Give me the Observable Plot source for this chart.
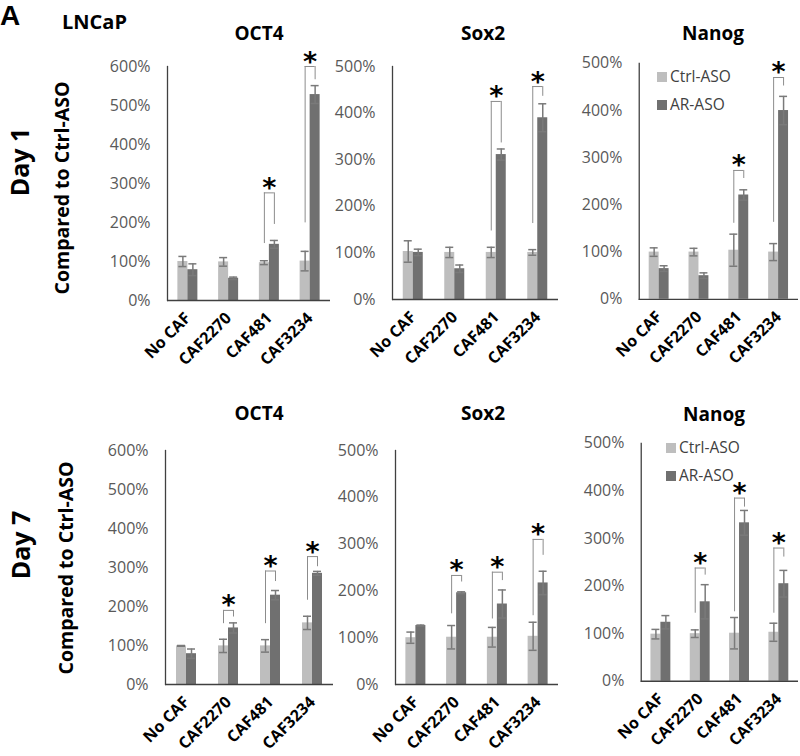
<!DOCTYPE html>
<html>
<head>
<meta charset="utf-8">
<script src="https://cdn.jsdelivr.net/npm/d3@7"></script>
<script src="https://cdn.jsdelivr.net/npm/@observablehq/plot@0.6"></script>
<style>
  html, body { margin: 0; padding: 0; background: #fff; }
  #root { position: relative; width: 800px; height: 756px; overflow: hidden; font-family: "Open Sans", sans-serif; }
  .lbl { position: absolute; white-space: nowrap; color: #000; font-weight: bold; line-height: 1; }
  .ctr { transform: translate(-50%, -50%); }
  .rot { transform: translate(-50%, -50%) rotate(-90deg); }
  .panel { position: absolute; }
  .panel svg { overflow: visible; }
  .panel g[aria-label="x-axis tick label"] { font-weight: bold; font-size: 16px; fill: #000; }
  .panel g[aria-label="y-axis tick label"] { font-size: 16px; fill: #595959; }
  .legend { position: absolute; font-size: 15.5px; color: #404040; line-height: 1; }
  .legend .row { position: absolute; white-space: nowrap; display: flex; align-items: center; }
  .legend .sw { width: 10px; height: 10px; margin-right: 3px; display: inline-block; }
</style>
</head>
<body>
<div id="root"></div>
<script>
// ---------- data ----------
const categories = ["No CAF", "CAF2270", "CAF481", "CAF3234"];
const seriesNames = ["Ctrl-ASO", "AR-ASO"];
const seriesColors = ["#bebebe", "#707070"];
const genes = ["OCT4", "Sox2", "Nanog"];
const days = ["Day 1", "Day 7"];
const yAxisTitle = "Compared to Ctrl-ASO";
const panelLetter = "A";
const cellLine = "LNCaP";
const yTicks600 = [0, 100, 200, 300, 400, 500, 600];
const yTicks500 = [0, 100, 200, 300, 400, 500];

// Day 1 values (%), error (±%)
const d1Oct4Ctrl = [100, 99, 97, 101];
const d1Oct4CtrlErr = [13, 11, 5, 25];
const d1Oct4Ar = [79, 57, 144, 528];
const d1Oct4ArErr = [15, 3, 10, 23];

const d1Sox2Ctrl = [103, 101, 101, 101];
const d1Sox2CtrlErr = [23, 11, 11, 6];
const d1Sox2Ar = [101, 66, 311, 390];
const d1Sox2ArErr = [7, 8, 12, 30];

const d1NanogCtrl = [100, 100, 104, 100];
const d1NanogCtrlErr = [9, 8, 34, 18];
const d1NanogAr = [65, 50, 221, 400];
const d1NanogArErr = [6, 6, 11, 30];

// Day 7
const d7Oct4Ctrl = [99, 99, 99, 158];
const d7Oct4CtrlErr = [1, 17, 16, 17];
const d7Oct4Ar = [79, 145, 229, 285];
const d7Oct4ArErr = [12, 13, 12, 5];

const d7Sox2Ctrl = [100, 101, 101, 103];
const d7Sox2CtrlErr = [12, 25, 21, 30];
const d7Sox2Ar = [126, 196, 172, 217];
const d7Sox2ArErr = [1, 2, 30, 25];

const d7NanogCtrl = [99, 100, 101, 103];
const d7NanogCtrlErr = [10, 8, 33, 19];
const d7NanogAr = [124, 167, 333, 205];
const d7NanogArErr = [14, 36, 26, 28];

// significance brackets: [category, left leg bottom, top, right leg bottom] in %
const d1Oct4Sig = [["CAF481", 146, 276, 195], ["CAF3234", 199, 600, 566]];
const d1Sox2Sig = [["CAF481", 147, 425, 336], ["CAF3234", 163, 457, 436]];
const d1NanogSig = [["CAF481", 161, 273, 256], ["CAF3234", 163, 470, 452]];
const d7Oct4Sig = [["CAF2270", 156, 190, 173], ["CAF481", 156, 291, 264], ["CAF3234", 216, 328, 302]];
const d7Sox2Sig = [["CAF2270", 151, 233, 219], ["CAF481", 140, 240, 222], ["CAF3234", 147, 310, 276]];
const d7NanogSig = [["CAF2270", 143, 238, 223], ["CAF481", 146, 385, 366], ["CAF3234", 143, 280, 261]];

// ---------- layout ----------
const root = document.getElementById("root");
function addLabel(text, x, y, size, cls, extra) {
  const el = document.createElement("div");
  el.className = "lbl " + cls;
  el.textContent = text;
  el.style.left = x + "px";
  el.style.top = y + "px";
  el.style.fontSize = size + "px";
  if (extra) Object.assign(el.style, extra);
  root.appendChild(el);
}

const panels = [
  {gene: 0, day: 0, ax: 167, right: 330, yTop: 66, y0: 300, ticks: yTicks600, ctrl: d1Oct4Ctrl, ctrlErr: d1Oct4CtrlErr, ar: d1Oct4Ar, arErr: d1Oct4ArErr, sig: d1Oct4Sig, title: [259, 33]},
  {gene: 1, day: 0, ax: 392, right: 558, yTop: 66, y0: 299, ticks: yTicks500, ctrl: d1Sox2Ctrl, ctrlErr: d1Sox2CtrlErr, ar: d1Sox2Ar, arErr: d1Sox2ArErr, sig: d1Sox2Sig, title: [483, 33]},
  {gene: 2, day: 0, ax: 639, right: 799, yTop: 63, y0: 300, ticks: yTicks500, ctrl: d1NanogCtrl, ctrlErr: d1NanogCtrlErr, ar: d1NanogAr, arErr: d1NanogArErr, sig: d1NanogSig, title: [713, 33], legend: [657, 78]},
  {gene: 0, day: 1, ax: 165, right: 333, yTop: 450, y0: 684, ticks: yTicks600, ctrl: d7Oct4Ctrl, ctrlErr: d7Oct4CtrlErr, ar: d7Oct4Ar, arErr: d7Oct4ArErr, sig: d7Oct4Sig, title: [259, 413]},
  {gene: 1, day: 1, ax: 395, right: 558, yTop: 450, y0: 684, ticks: yTicks500, ctrl: d7Sox2Ctrl, ctrlErr: d7Sox2CtrlErr, ar: d7Sox2Ar, arErr: d7Sox2ArErr, sig: d7Sox2Sig, title: [483, 413]},
  {gene: 2, day: 1, ax: 641, right: 799, yTop: 443, y0: 682, ticks: yTicks500, ctrl: d7NanogCtrl, ctrlErr: d7NanogCtrlErr, ar: d7NanogAr, arErr: d7NanogArErr, sig: d7NanogSig, title: [714, 414], legend: [666, 449]}
];

const mL = 60, mR = 2, mT = 32, mB = 85;
const errColor = "#7a7a7a", sigColor = "#8c8c8c", axisColor = "#404040";

for (const p of panels) {
  const W = p.right - p.ax;
  const step = W / categories.length;
  const barW = 10;
  const outer = (step - 2 * barW) / 2;
  const rows = categories.map((c, i) => ({cat: c, ctrl: p.ctrl[i], ctrlErr: p.ctrlErr[i], ar: p.ar[i], arErr: p.arErr[i]}));
  const sig = p.sig.map(([cat, left, top, right]) => ({cat, left, top, right}));
  const yMax = p.ticks[p.ticks.length - 1];
  const plot = Plot.plot({
    width: mL + W + mR,
    height: mT + (p.y0 - p.yTop) + mB,
    marginLeft: mL, marginRight: mR, marginTop: mT, marginBottom: mB,
    style: {background: "none", overflow: "visible", fontFamily: "'Open Sans', sans-serif"},
    x: {domain: categories, padding: 0, round: false, tickRotate: -45, tickSize: 0, tickPadding: 15, label: null},
    y: {domain: [0, yMax], ticks: p.ticks, tickFormat: d => d + "%", tickSize: 0, tickPadding: 17, label: null},
    marks: [
      Plot.barY(rows, {x: "cat", y: "ctrl", fill: seriesColors[0], insetLeft: outer, insetRight: outer + barW}),
      Plot.barY(rows, {x: "cat", y: "ar", fill: seriesColors[1], insetLeft: outer + barW, insetRight: outer}),
      // error bars
      Plot.ruleX(rows, {x: "cat", y1: d => d.ctrl - d.ctrlErr, y2: d => d.ctrl + d.ctrlErr, dx: -barW / 2, stroke: errColor, strokeWidth: 1.5}),
      Plot.tickY(rows, {x: "cat", y: d => d.ctrl + d.ctrlErr, insetLeft: outer + 1, insetRight: outer + barW + 1, stroke: errColor, strokeWidth: 1.5}),
      Plot.tickY(rows, {x: "cat", y: d => d.ctrl - d.ctrlErr, insetLeft: outer + 1, insetRight: outer + barW + 1, stroke: errColor, strokeWidth: 1.5}),
      Plot.ruleX(rows, {x: "cat", y1: d => d.ar - d.arErr, y2: d => d.ar + d.arErr, dx: barW / 2, stroke: errColor, strokeWidth: 1.5}),
      Plot.tickY(rows, {x: "cat", y: d => d.ar + d.arErr, insetLeft: outer + barW + 1, insetRight: outer + 1, stroke: errColor, strokeWidth: 1.5}),
      Plot.tickY(rows, {x: "cat", y: d => d.ar - d.arErr, insetLeft: outer + barW + 1, insetRight: outer + 1, stroke: errColor, strokeWidth: 1.5}),
      // significance brackets
      Plot.ruleX(sig, {x: "cat", y1: "left", y2: "top", dx: -barW / 2, stroke: sigColor, strokeWidth: 1}),
      Plot.ruleX(sig, {x: "cat", y1: "right", y2: "top", dx: barW / 2, stroke: sigColor, strokeWidth: 1}),
      Plot.tickY(sig, {x: "cat", y: "top", insetLeft: outer + barW / 2, insetRight: outer + barW / 2, stroke: sigColor, strokeWidth: 1}),
      Plot.text(sig, {x: "cat", y: "top", text: () => "*", fontSize: 27, fontWeight: "bold", fontFamily: "DejaVu Sans", fill: "#000", lineAnchor: "bottom", dy: 4}),
      // axes lines
      Plot.ruleY([0], {stroke: axisColor, strokeWidth: 1.3}),
      Plot.frame({anchor: "left", stroke: axisColor, strokeWidth: 1.3})
    ]
  });
  const wrap = document.createElement("div");
  wrap.className = "panel";
  wrap.style.left = (p.ax - mL) + "px";
  wrap.style.top = (p.yTop - mT) + "px";
  wrap.appendChild(plot);
  root.appendChild(wrap);

  addLabel(genes[p.gene], p.title[0], p.title[1], 19, "ctr");

  if (p.legend) {
    const lg = document.createElement("div");
    lg.className = "legend";
    lg.style.left = p.legend[0] + "px";
    lg.style.top = p.legend[1] + "px";
    seriesNames.forEach((s, i) => {
      const row = document.createElement("div");
      row.className = "row";
      row.style.top = (i * 28 - 9) + "px";
      const sw = document.createElement("span");
      sw.className = "sw";
      sw.style.background = seriesColors[i];
      row.appendChild(sw);
      row.appendChild(document.createTextNode(s));
      lg.appendChild(row);
    });
    root.appendChild(lg);
  }
}

addLabel(panelLetter, 0, 0, 28, "", {fontFamily: "'Liberation Sans', sans-serif", lineHeight: "normal"});
addLabel(cellLine, 62, 12, 20, "");
addLabel(days[0], 19, 162, 25, "rot");
addLabel(yAxisTitle, 62, 188, 19.5, "rot");
addLabel(days[1], 20, 545, 25, "rot");
addLabel(yAxisTitle, 66, 568, 19.5, "rot");
</script>
</body>
</html>
